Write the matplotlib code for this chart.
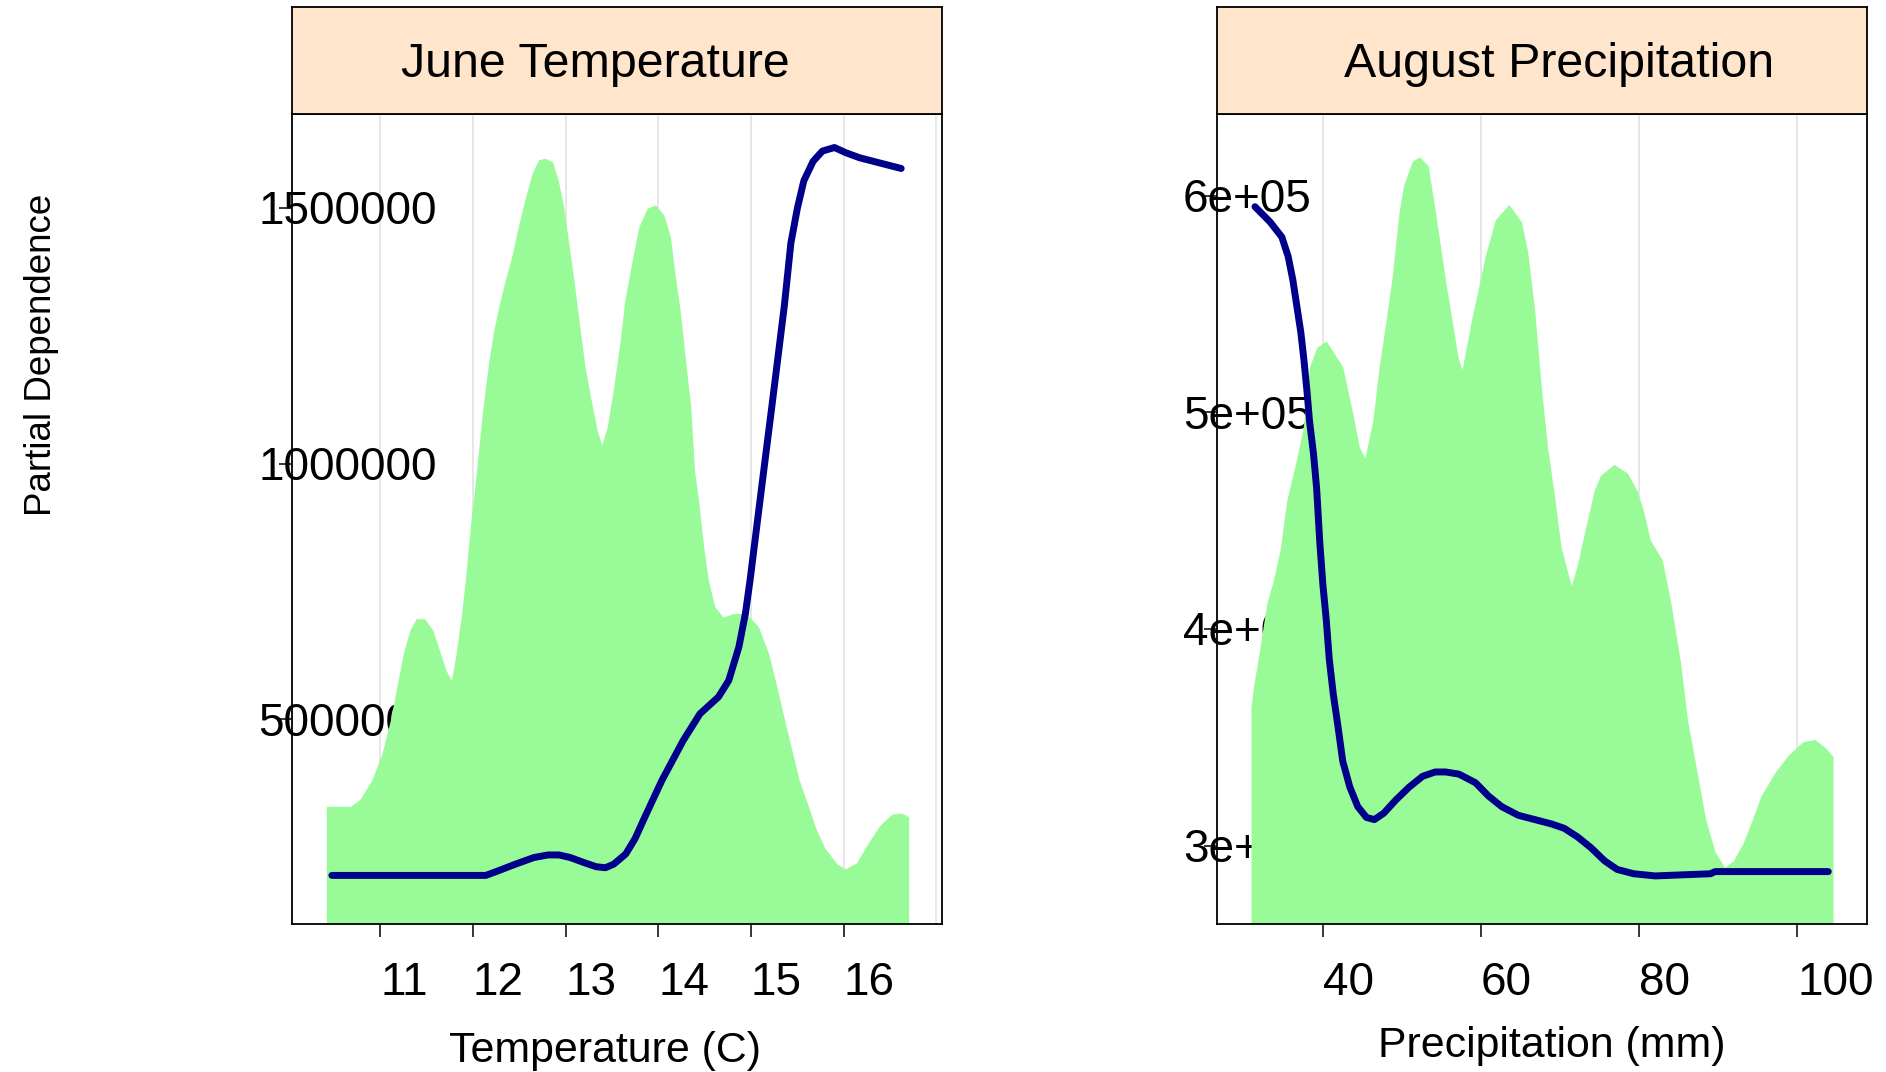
import matplotlib
matplotlib.use("Agg")
import matplotlib.pyplot as plt
from matplotlib.transforms import ScaledTranslation

plt.rcParams['font.family'] = ['Liberation Sans', 'DejaVu Sans']

# ---- data ----
panel_titles = ["June Temperature", "August Precipitation"]
x_titles = ["Temperature (C)", "Precipitation (mm)"]
y_title = "Partial Dependence"

june_xticks = [11, 12, 13, 14, 15, 16]
june_yticks = [500000, 1000000, 1500000]
june_ylabels = ["500000", "1000000", "1500000"]
june_grid = [11, 12, 13, 14, 15, 16, 17]

june_dens_x = [10.42, 10.68, 10.78, 10.91, 11.02, 11.11, 11.18, 11.25, 11.32, 11.39,
               11.48, 11.57, 11.64, 11.71, 11.77, 11.82, 11.88, 11.93, 11.98, 12.03,
               12.11, 12.17, 12.22, 12.28, 12.35, 12.42, 12.49, 12.56, 12.64, 12.71,
               12.78, 12.86, 12.92, 12.98, 13.03, 13.09, 13.14, 13.21, 13.29, 13.34,
               13.39, 13.45, 13.52, 13.59, 13.64, 13.72, 13.79, 13.88, 13.97, 14.06,
               14.13, 14.18, 14.24, 14.29, 14.35, 14.39, 14.43, 14.49, 14.54, 14.61,
               14.70, 14.81, 14.95, 15.08, 15.19, 15.28, 15.38, 15.52, 15.60, 15.70,
               15.80, 15.93, 16.02, 16.14, 16.27, 16.39, 16.52, 16.62, 16.70]
june_dens_y = [330000, 330000, 343000, 381000, 433000, 498000, 563000, 629000, 674000, 697000,
               697000, 674000, 635000, 596000, 576000, 629000, 707000, 792000, 889000, 968000,
               1111000, 1196000, 1255000, 1307000, 1359000, 1405000, 1463000, 1515000, 1568000, 1594000,
               1597000, 1590000, 1555000, 1502000, 1437000, 1359000, 1287000, 1189000, 1111000, 1066000,
               1036000, 1072000, 1150000, 1242000, 1320000, 1398000, 1463000, 1499000, 1506000, 1486000,
               1444000, 1372000, 1294000, 1209000, 1111000, 987000, 935000, 837000, 772000, 720000,
               700000, 707000, 707000, 681000, 629000, 563000, 485000, 381000, 340000, 287000,
               247000, 217000, 208000, 220000, 260000, 293000, 315000, 317000, 310000]

june_pd_x = [10.48, 12.14, 12.26, 12.46, 12.66, 12.81, 12.93, 13.05, 13.20, 13.33,
             13.43, 13.52, 13.65, 13.75, 13.85, 14.04, 14.27, 14.45, 14.65, 14.76,
             14.87, 14.94, 14.99, 15.08, 15.17, 15.23, 15.36, 15.43, 15.50, 15.57,
             15.67, 15.77, 15.90, 16.02, 16.17, 16.32, 16.47, 16.62]
june_pd_y = [195000, 195000, 203000, 217000, 230000, 235000, 235000, 230000, 220000, 212000,
             210000, 217000, 237000, 267000, 307000, 381000, 459000, 511000, 544000, 576000,
             642000, 707000, 772000, 903000, 1033000, 1119000, 1309000, 1431000, 1499000, 1553000,
             1591000, 1611000, 1618000, 1608000, 1598000, 1591000, 1584000, 1577000]

aug_xticks = [40, 60, 80, 100]
aug_yticks = [300000, 400000, 500000, 600000]
aug_ylabels = ["3e+05", "4e+05", "5e+05", "6e+05"]
aug_grid = [40, 60, 80, 100]

aug_dens_x = [30.9, 31.2, 32.1, 32.9, 33.7, 34.6, 35.4, 36.7, 37.5, 38.3,
              39.2, 40.4, 41.3, 42.5, 43.8, 44.6, 45.3, 46.3, 47.1, 48.0,
              48.8, 49.6, 50.2, 51.3, 52.2, 53.3, 54.2, 55.5, 56.3, 57.1,
              57.6, 58.8, 59.7, 60.5, 61.8, 63.5, 65.1, 65.9, 66.8, 67.6,
              68.4, 69.3, 70.1, 71.4, 72.2, 73.1, 74.3, 75.1, 76.8, 78.5,
              79.7, 80.5, 81.4, 82.9, 84.0, 85.2, 86.1, 87.3, 88.4, 89.6,
              90.8, 91.9, 93.1, 94.3, 95.4, 97.2, 98.9, 100.7, 102.2, 103.6, 104.5]
aug_dens_y = [364000, 373000, 393000, 412000, 422000, 437000, 459000, 479000, 493000, 521000,
              530000, 533000, 528000, 521000, 499000, 484000, 479000, 496000, 521000, 543000,
              564000, 592000, 605000, 616000, 618000, 614000, 593000, 561000, 543000, 525000,
              520000, 543000, 558000, 572000, 589000, 596000, 588000, 574000, 546000, 512000,
              484000, 461000, 438000, 420000, 430000, 445000, 464000, 471000, 476000, 472000,
              464000, 455000, 441000, 432000, 412000, 385000, 358000, 334000, 312000, 297000,
              290000, 293000, 301000, 312000, 323000, 334000, 342000, 348000, 349000, 345000, 341000]

aug_pd_x = [31.4, 33.3, 34.8, 35.6, 36.2, 36.7, 37.2, 37.6, 38.0, 38.3,
            38.8, 39.2, 39.6, 40.0, 40.4, 40.8, 41.3, 41.9, 42.5, 43.4,
            44.4, 45.5, 46.5, 47.7, 49.2, 50.9, 52.6, 54.2, 55.5, 57.2,
            59.3, 60.9, 62.6, 64.7, 66.8, 68.9, 70.5, 72.2, 73.9, 75.6,
            77.2, 79.3, 82.0, 89.0, 89.6, 103.9]
aug_pd_y = [595000, 588000, 581000, 572000, 561000, 549000, 537000, 524000, 509000, 496000,
            481000, 465000, 440000, 420000, 405000, 386000, 370000, 355000, 339000, 327000,
            318000, 313000, 312000, 315000, 321000, 327000, 332000, 334000, 334000, 333000,
            329000, 323000, 318000, 314000, 312000, 310000, 308000, 304000, 299000, 293000,
            289000, 287000, 286000, 287000, 288000, 288000]

W, H = 1886, 1072
STRIP_COL = "#ffe5cc"
DENS_COL = "#98fb98"
LINE_COL = "#00008b"
GRID_COL = "#e3e3e3"
TICK_FS = 33


def rect(x0, x1, ytop, ybot):
    return [x0 / W, 1 - ybot / H, (x1 - x0) / W, (ybot - ytop) / H]


def draw_panel(fig, x0, x1, xlim, ylim, grid, xticks, yticks, ylabels,
               dens_x, dens_y, pd_x, pd_y, title, title_x, xlab, xlab_x, xlab_y):
    ax = fig.add_axes(rect(x0, x1, 114, 924))
    ax.set_xlim(xlim)
    ax.set_ylim(ylim)

    for g in grid:
        ax.axvline(g, color=GRID_COL, lw=1.2, zorder=0.3)

    # y labels sit under the panel content, as in the lattice output
    ytr = ax.get_yaxis_transform() + ScaledTranslation(-34 / 100, -16.4 / 100, fig.dpi_scale_trans)
    for v, s in zip(yticks, ylabels):
        ax.text(0, v, s, transform=ytr, ha="left", va="baseline",
                fontsize=TICK_FS, clip_on=False, zorder=0.5)

    ax.fill_between(dens_x, dens_y, ylim[0], color=DENS_COL, lw=0, zorder=1)
    ax.plot(pd_x, pd_y, color=LINE_COL, lw=5, solid_capstyle="round",
            solid_joinstyle="round", zorder=2)

    ax.set_xticks(xticks)
    ax.set_yticks(yticks)
    ax.tick_params(axis="both", direction="out", length=9.5, width=1.1,
                   labelbottom=False, labelleft=False)
    xtr = ax.get_xaxis_transform() + ScaledTranslation(0, -71 / 100, fig.dpi_scale_trans)
    for v in xticks:
        ax.text(v, 0, str(v), transform=xtr, ha="left", va="baseline",
                fontsize=TICK_FS, clip_on=False)
    for sp in ax.spines.values():
        sp.set_linewidth(1.3)

    sax = fig.add_axes(rect(x0, x1, 7, 114))
    sax.set_facecolor(STRIP_COL)
    sax.set_xticks([])
    sax.set_yticks([])
    for sp in sax.spines.values():
        sp.set_linewidth(1.3)
    fig.text(title_x / W, 1 - 77 / H, title, ha="center", va="baseline", fontsize=34.8)

    fig.text(xlab_x / W, 1 - xlab_y / H, xlab, ha="center", va="baseline", fontsize=30.9)
    return ax


def main():
    fig = plt.figure(figsize=(W / 100, H / 100), dpi=100)

    draw_panel(fig, 292, 942, (10.05, 17.06), (100000, 1683500), june_grid,
               june_xticks, june_yticks, june_ylabels,
               june_dens_x, june_dens_y, june_pd_x, june_pd_y,
               panel_titles[0], 595, x_titles[0], 605, 1062)
    draw_panel(fig, 1217, 1867, (26.6, 108.8), (263800, 637800), aug_grid,
               aug_xticks, aug_yticks, aug_ylabels,
               aug_dens_x, aug_dens_y, aug_pd_x, aug_pd_y,
               panel_titles[1], 1559, x_titles[1], 1552, 1057)

    fig.text(42 / W, 1 - 354.5 / H, y_title, rotation=90, ha="center", va="center",
             fontsize=26.5)

    fig.savefig("out.png", dpi=100, facecolor="white")


if __name__ == "__main__":
    main()
